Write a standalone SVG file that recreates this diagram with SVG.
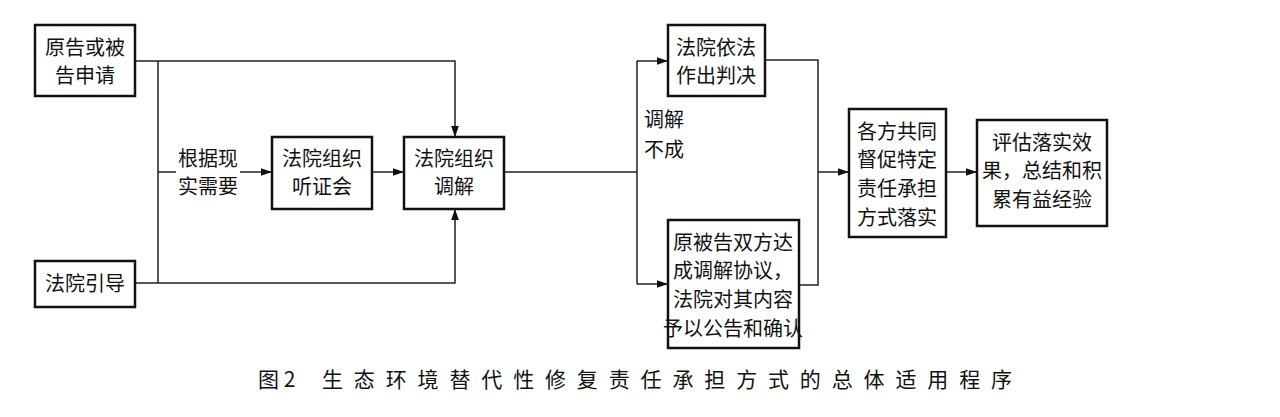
<svg xmlns="http://www.w3.org/2000/svg" width="1280" height="417" viewBox="0 0 1280 417">
<style>
.b{fill:#fff;stroke:#111;stroke-width:2.5}
.l{fill:none;stroke:#222;stroke-width:1.5}
text{font-family:"Noto Sans CJK SC",sans-serif;font-size:20px;fill:#111;text-anchor:middle}
.c{text-anchor:start;font-size:21px}
</style>
<defs><marker id="a" viewBox="0 0 10 10" refX="10" refY="5" markerWidth="11" markerHeight="11" markerUnits="userSpaceOnUse" orient="auto"><path d="M0,1.5L10,5L0,8.5z" fill="#111"/></marker></defs>
<rect width="1280" height="417" fill="#fff"/>
<g id="connectors">
<path class="l" d="M135,61H455V137" marker-end="url(#a)"/>
<path class="l" d="M135,283H455V209" marker-end="url(#a)"/>
<path class="l" d="M158,61V283M158,172H176"/>
<path class="l" d="M240,172H272" marker-end="url(#a)"/>
<path class="l" d="M372,172H404" marker-end="url(#a)"/>
<path class="l" d="M504,172H637M637,61V284"/>
<path class="l" d="M637,61H668" marker-end="url(#a)"/>
<path class="l" d="M637,284H668" marker-end="url(#a)"/>
<path class="l" d="M765,60H818V285H799M818,172H849" marker-end="url(#a)"/>
<path class="l" d="M946,172H977" marker-end="url(#a)"/>
<text x="664" y="127">调解</text>
<text x="664" y="157">不成</text>
<text x="208" y="166">根据现</text>
<text x="208" y="194">实需要</text>
</g>
<g id="n1"><rect class="b" x="35" y="25" width="100" height="71"/><text x="85" y="55">原告或被</text><text x="85" y="83">告申请</text></g>
<g id="n2"><rect class="b" x="35" y="261" width="100" height="46"/><text x="85" y="291">法院引导</text></g>
<g id="n3"><rect class="b" x="272" y="137" width="100" height="72"/><text x="322" y="166">法院组织</text><text x="322" y="194">听证会</text></g>
<g id="n4"><rect class="b" x="404" y="137" width="100" height="72"/><text x="454" y="166">法院组织</text><text x="454" y="194">调解</text></g>
<g id="n5"><rect class="b" x="668" y="25" width="97" height="71"/><text x="716" y="55">法院依法</text><text x="716" y="83">作出判决</text></g>
<g id="n6"><rect class="b" x="668" y="220" width="131" height="128"/><text x="733" y="250">原被告双方达</text><text x="733" y="278">成调解协议，</text><text x="733" y="307">法院对其内容</text><text x="733" y="336">予以公告和确认</text></g>
<g id="n7"><rect class="b" x="849" y="109" width="97" height="128"/><text x="897" y="139">各方共同</text><text x="897" y="167">督促特定</text><text x="897" y="196">责任承担</text><text x="897" y="225">方式落实</text></g>
<g id="n8"><rect class="b" x="977" y="120" width="130" height="106"/><text x="1042" y="150">评估落实效</text><text x="1042" y="178">果，总结和积</text><text x="1042" y="207">累有益经验</text></g>
<text class="c" x="258" y="387">图 2</text>
<text class="c" x="322" y="387" textLength="690" lengthAdjust="spacing">生态环境替代性修复责任承担方式的总体适用程序</text>
</svg>
